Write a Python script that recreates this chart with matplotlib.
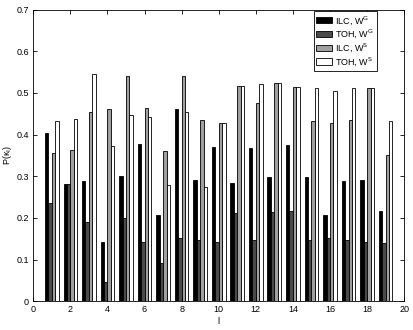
import numpy as np
import matplotlib
matplotlib.use('Agg')
import matplotlib.pyplot as plt

plt.rcParams['font.family'] = ['Liberation Sans', 'DejaVu Sans']
plt.rcParams['font.size'] = 6.5

groups = np.arange(1, 20)
ilc_wg = [0.403, 0.281, 0.289, 0.142, 0.301, 0.377, 0.207, 0.461, 0.292, 0.370,
          0.283, 0.369, 0.299, 0.374, 0.299, 0.208, 0.289, 0.292, 0.217]
toh_wg = [0.235, 0.281, 0.190, 0.046, 0.200, 0.143, 0.092, 0.153, 0.146, 0.143,
          0.212, 0.148, 0.215, 0.217, 0.148, 0.152, 0.148, 0.143, 0.141]
ilc_ws = [0.355, 0.364, 0.454, 0.461, 0.541, 0.464, 0.361, 0.541, 0.436, 0.428,
          0.517, 0.476, 0.525, 0.515, 0.433, 0.428, 0.434, 0.512, 0.350]
toh_ws = [0.432, 0.438, 0.545, 0.373, 0.446, 0.443, 0.279, 0.455, 0.274, 0.428,
          0.517, 0.522, 0.525, 0.515, 0.512, 0.505, 0.512, 0.512, 0.432]

series = [ilc_wg, toh_wg, ilc_ws, toh_ws]
labels = ['ILC, W$^{\\mathrm{G}}$', 'TOH, W$^{\\mathrm{G}}$',
          'ILC, W$^{\\mathrm{S}}$', 'TOH, W$^{\\mathrm{S}}$']
colors = ['#000000', '#4a4a4a', '#a0a0a0', '#ffffff']

fig = plt.figure(figsize=(4.13, 3.3), dpi=100)
ax = fig.add_axes([0.0806, 0.087, 0.898, 0.884])

w = 0.185
for k, vals in enumerate(series):
    ax.bar(groups + (k - 1.5) * w, vals, width=w, color=colors[k],
           edgecolor='black', linewidth=0.6, label=labels[k])

ax.set_xlim(0, 20)
ax.set_ylim(0, 0.7)
ax.set_xticks(np.arange(0, 21, 2))
ax.set_yticks(np.arange(0, 0.71, 0.1))
ax.set_yticklabels(['0', '0.1', '0.2', '0.3', '0.4', '0.5', '0.6', '0.7'])
ax.tick_params(direction='in', top=True, right=True, length=3, width=0.6, pad=3)
for s in ax.spines.values():
    s.set_linewidth(0.6)
ax.set_xlabel('l', labelpad=2)
ax.set_ylabel('P(\u03ba$_\\mathrm{l}$)', labelpad=2)

leg = ax.legend(loc='upper right', bbox_to_anchor=(0.927, 0.995), borderaxespad=0,
                fancybox=False, edgecolor='black', framealpha=1,
                handlelength=1.7, handleheight=0.75, borderpad=0.3,
                labelspacing=0.12, handletextpad=0.4)
leg.get_frame().set_linewidth(0.6)

fig.savefig('out.png', dpi=100)
